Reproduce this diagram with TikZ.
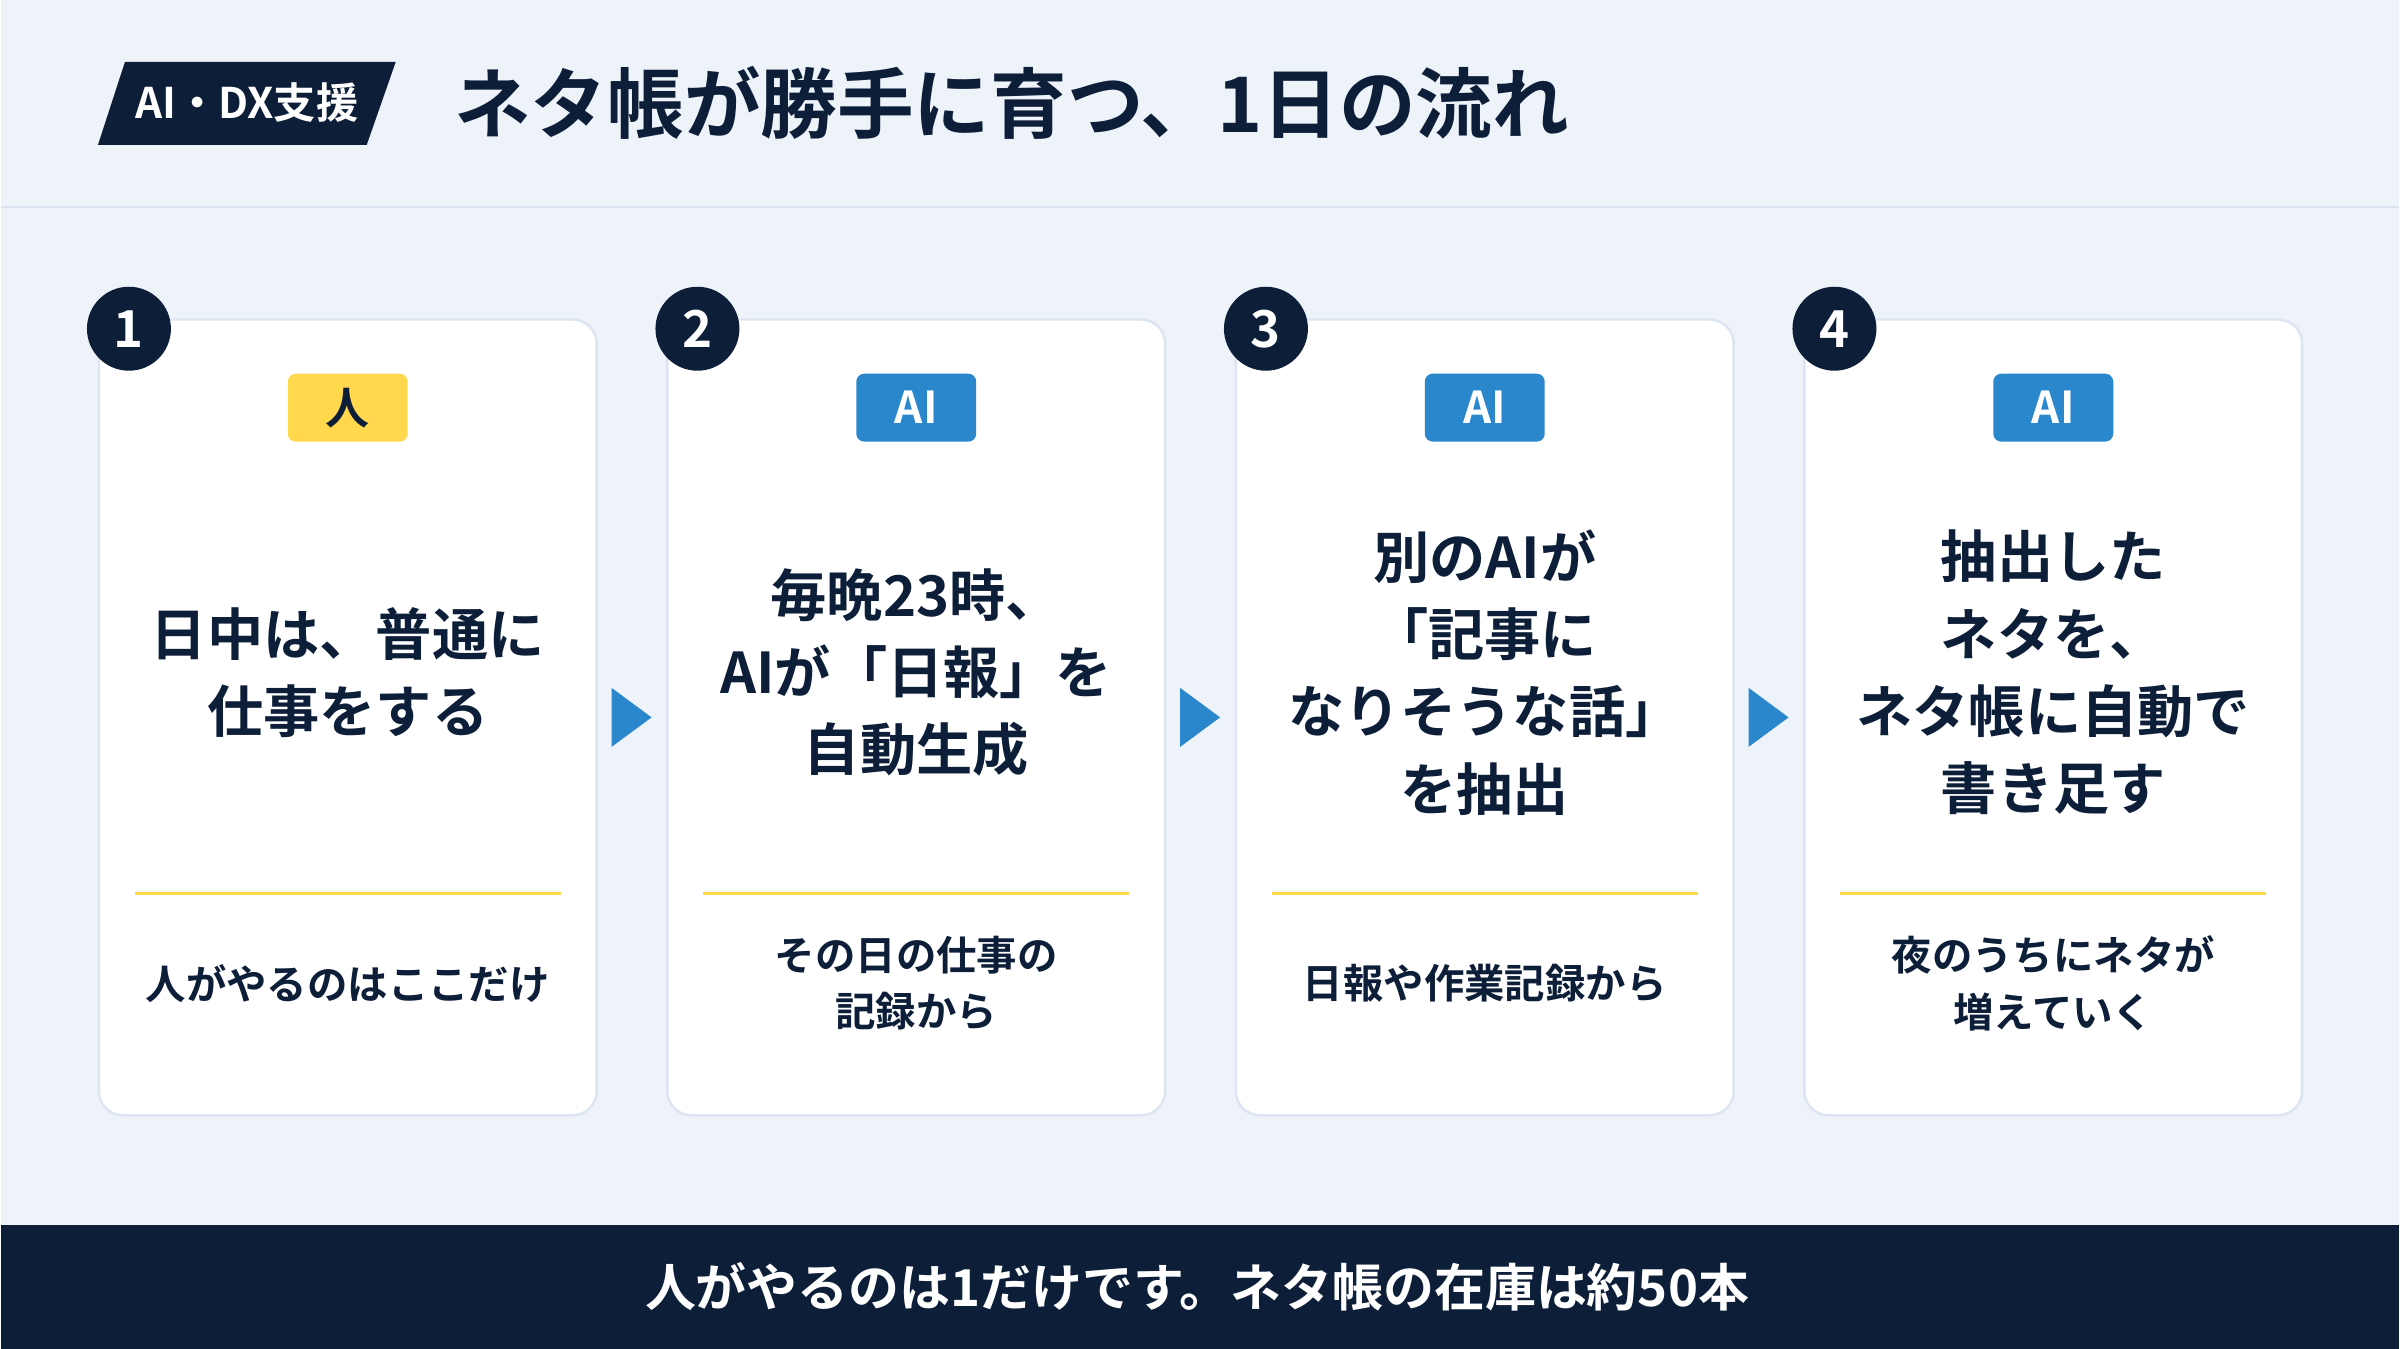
\documentclass[tikz,border=0pt]{standalone}
\usepackage{fontspec}
\setmainfont{Noto Sans CJK JP}[BoldFont={Noto Sans CJK JP Bold}]
\usetikzlibrary{shapes.geometric}

\definecolor{navy}{HTML}{0C1E38}
\definecolor{pagebg}{HTML}{EEF3FA}
\definecolor{sepline}{HTML}{DAE3EF}
\definecolor{cardline}{HTML}{DCE5F1}
\definecolor{aiblue}{HTML}{2B87CC}
\definecolor{tagyellow}{HTML}{FFD84D}

\begin{document}
\begin{tikzpicture}[x=0.01cm,y=-0.01cm,
    card/.style={rectangle, draw=cardline, fill=white, line width=0.7pt, rounded corners=0.24cm, minimum width=4.98cm, minimum height=7.96cm},
    num/.style={circle, fill=navy, text=white, minimum size=0.84cm, inner sep=0pt, font=\bfseries\fontsize{14.5}{14.5}\selectfont},
    tagbox/.style={rectangle, rounded corners=0.08cm, minimum width=1.2cm, minimum height=0.68cm, inner sep=0pt, font=\bfseries\fontsize{12.5}{12.5}\selectfont},
    human/.style={tagbox, fill=tagyellow, text=navy},
    ai/.style={tagbox, fill=aiblue, text=white},
    headline/.style={align=center, text=navy, font=\bfseries\fontsize{16}{22}\selectfont},
    note/.style={align=center, text=navy, font=\bfseries\fontsize{11.5}{16.2}\selectfont},
    underline/.style={draw=tagyellow, line width=0.85pt},
    flow/.style={isosceles triangle, isosceles triangle stretches, shape border rotate=0, fill=aiblue, minimum width=0.59cm, minimum height=0.4cm, inner sep=0pt}
  ]
  \fill[pagebg] (0,0) rectangle (2400,1350);
  \draw[sepline, line width=0.6pt] (0,207)--(2400,207);

  \fill[navy] (97,145)--(124,62)--(395,62)--(366,145)--cycle;
  \node at (246,103) [text=white, font=\bfseries\fontsize{12}{12}\selectfont] (badge) {AI・DX支援};
  \node at (453,103) [anchor=west, inner sep=0pt, text=navy, font=\bfseries\fontsize{21.8}{21.8}\selectfont] (title) {ネタ帳が勝手に育つ、1日の流れ};

  \node at (347,718) [card] (card1) {};
  \node at (916,718) [card] (card2) {};
  \node at (1485,718) [card] (card3) {};
  \node at (2054,718) [card] (card4) {};

  \node at (128,329) [num] (num1) {1};
  \node at (697,329) [num] (num2) {2};
  \node at (1266,329) [num] (num3) {3};
  \node at (1835,329) [num] (num4) {4};

  \node at (347,408) [human] (who1) {人};
  \node at (916,408) [ai] (who2) {AI};
  \node at (1485,408) [ai] (who3) {AI};
  \node at (2054,408) [ai] (who4) {AI};

  \node at (347,673) [headline] (step1) {日中は、普通に\\仕事をする};
  \node at (916,673) [headline] (step2) {毎晩23時、\\AIが「日報」を\\自動生成};
  \node at (1485,673) [headline] (step3) {別のAIが\\「記事に\\なりそうな話」\\を抽出};
  \node at (2054,673) [headline] (step4) {抽出した\\ネタを、\\ネタ帳に自動で\\書き足す};

  \draw[underline] (134,894)--(560,894);
  \draw[underline] (703,894)--(1129,894);
  \draw[underline] (1272,894)--(1698,894);
  \draw[underline] (1841,894)--(2267,894);

  \node at (347,984) [note] (sub1) {人がやるのはここだけ};
  \node at (916,984) [note] (sub2) {その日の仕事の\\記録から};
  \node at (1485,984) [note] (sub3) {日報や作業記録から};
  \node at (2054,984) [note] (sub4) {夜のうちにネタが\\増えていく};

  \node at (626,718) [flow] (go1) {};
  \node at (1195,718) [flow] (go2) {};
  \node at (1764,718) [flow] (go3) {};

  \fill[navy] (0,1226) rectangle (2400,1350);
  \node at (1197,1288) [text=white, font=\bfseries\fontsize{14.5}{14.5}\selectfont] (footer) {人がやるのは1だけです。ネタ帳の在庫は約50本};
\end{tikzpicture}
\end{document}
